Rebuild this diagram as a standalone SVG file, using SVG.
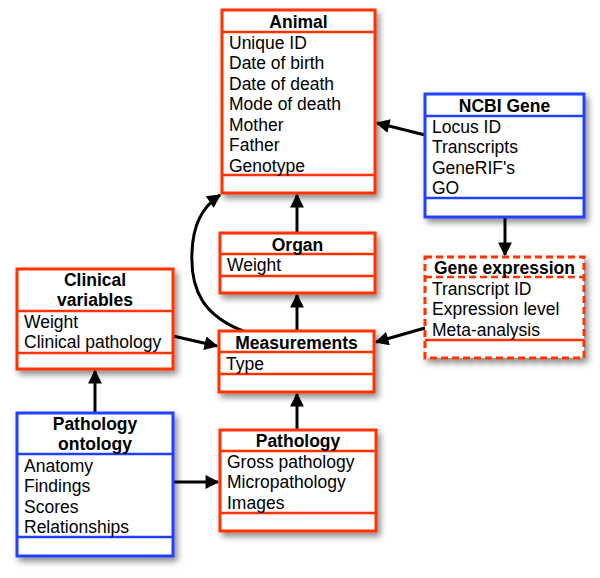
<svg xmlns="http://www.w3.org/2000/svg" width="600" height="578" viewBox="0 0 600 578">
<defs>
<filter id="sh" x="-10%" y="-10%" width="130%" height="130%">
<feDropShadow dx="3" dy="4" stdDeviation="3" flood-color="#000" flood-opacity="0.45"/>
</filter>
<marker id="ah" viewBox="0 0 10 10" refX="9" refY="5" markerWidth="5.200" markerHeight="4.600" orient="auto" markerUnits="strokeWidth">
<path d="M0,0 L10,5 L0,10 z" fill="#000"/>
</marker>
</defs>
<style>
.box{fill:#fff;stroke-width:3;filter:url(#sh)}
.red{stroke:#ff3300}
.blue{stroke:#2040ff}
.dash{stroke-dasharray:7,4}
.sep{stroke-width:2.5}
text{font-family:"Liberation Sans",Arial,sans-serif;font-size:17.5px;fill:#000}
.h{font-weight:bold;text-anchor:middle}
.c{fill:none;stroke:#000;stroke-width:3;marker-end:url(#ah)}
</style>
<rect width="600" height="578" fill="#fff"/>
<g id="connectors">
<path class="c" d="M425,135 L377,123"/>
<path class="c" d="M505,217 L505,255"/>
<path class="c" d="M425,328 L376,342"/>
<path class="c" d="M297,233 L297,195"/>
<path class="c" d="M297,331 L297,295"/>
<path class="c" d="M297,430 L297,394"/>
<path class="c" d="M173,336 L217,346"/>
<path class="c" d="M95,413 L95,371"/>
<path class="c" d="M173,482 L218,482"/>
<path class="c" d="M243,331 C205,316 190,292 192,252 C193,226 201,208 220,195"/>
</g>
<g id="animal">
<rect class="box red" x="222" y="10" width="153" height="183"/>
<line class="red sep" x1="222" y1="32" x2="375" y2="32"/>
<line class="red sep" x1="222" y1="175" x2="375" y2="175"/>
<text class="h" x="298.500" y="27.500">Animal</text>
<text x="229" y="48.500">Unique ID</text>
<text x="229" y="69">Date of birth</text>
<text x="229" y="89.500">Date of death</text>
<text x="229" y="110">Mode of death</text>
<text x="229" y="130.500">Mother</text>
<text x="229" y="151">Father</text>
<text x="229" y="171.500">Genotype</text>
</g>
<g id="ncbi-gene">
<rect class="box blue" x="425" y="94" width="159" height="123"/>
<line class="blue sep" x1="425" y1="116" x2="584" y2="116"/>
<line class="blue sep" x1="425" y1="198" x2="584" y2="198"/>
<text class="h" x="504.500" y="111.500">NCBI Gene</text>
<text x="432" y="132.500">Locus ID</text>
<text x="432" y="153">Transcripts</text>
<text x="432" y="173.500">GeneRIF's</text>
<text x="432" y="194">GO</text>
</g>
<g id="gene-expression">
<rect class="box red dash" x="425" y="257" width="159" height="101"/>
<line class="red sep dash" x1="425" y1="277" x2="584" y2="277"/>
<line class="red sep" x1="425" y1="340" x2="584" y2="340"/>
<text class="h" x="504.500" y="274">Gene expression</text>
<text x="432" y="294.500">Transcript ID</text>
<text x="432" y="315">Expression level</text>
<text x="432" y="335.500">Meta-analysis</text>
</g>
<g id="organ">
<rect class="box red" x="220" y="233" width="155" height="60"/>
<line class="red sep" x1="220" y1="254" x2="375" y2="254"/>
<line class="red sep" x1="220" y1="276" x2="375" y2="276"/>
<text class="h" x="297.500" y="250.500">Organ</text>
<text x="227" y="270.500">Weight</text>
</g>
<g id="clinical-variables">
<rect class="box red" x="17" y="269" width="156" height="100"/>
<line class="red sep" x1="17" y1="311" x2="173" y2="311"/>
<line class="red sep" x1="17" y1="353" x2="173" y2="353"/>
<text class="h" x="95" y="285.500">Clinical</text>
<text class="h" x="95" y="306">variables</text>
<text x="24" y="327.500">Weight</text>
<text x="24" y="348">Clinical pathology</text>
</g>
<g id="measurements">
<rect class="box red" x="219" y="331" width="155" height="61"/>
<line class="red sep" x1="219" y1="352" x2="374" y2="352"/>
<line class="red sep" x1="219" y1="374" x2="374" y2="374"/>
<text class="h" x="296.500" y="348.500">Measurements</text>
<text x="226" y="369.500">Type</text>
</g>
<g id="pathology-ontology">
<rect class="box blue" x="17" y="413" width="156" height="143"/>
<line class="blue sep" x1="17" y1="454" x2="173" y2="454"/>
<line class="blue sep" x1="17" y1="537" x2="173" y2="537"/>
<text class="h" x="95" y="429.500">Pathology</text>
<text class="h" x="95" y="450">ontology</text>
<text x="24" y="471.500">Anatomy</text>
<text x="24" y="492">Findings</text>
<text x="24" y="512.500">Scores</text>
<text x="24" y="533">Relationships</text>
</g>
<g id="pathology">
<rect class="box red" x="220" y="430" width="156" height="101"/>
<line class="red sep" x1="220" y1="451" x2="376" y2="451"/>
<line class="red sep" x1="220" y1="513" x2="376" y2="513"/>
<text class="h" x="298" y="446.500">Pathology</text>
<text x="227" y="467.500">Gross pathology</text>
<text x="227" y="488">Micropathology</text>
<text x="227" y="508.500">Images</text>
</g>
</svg>
